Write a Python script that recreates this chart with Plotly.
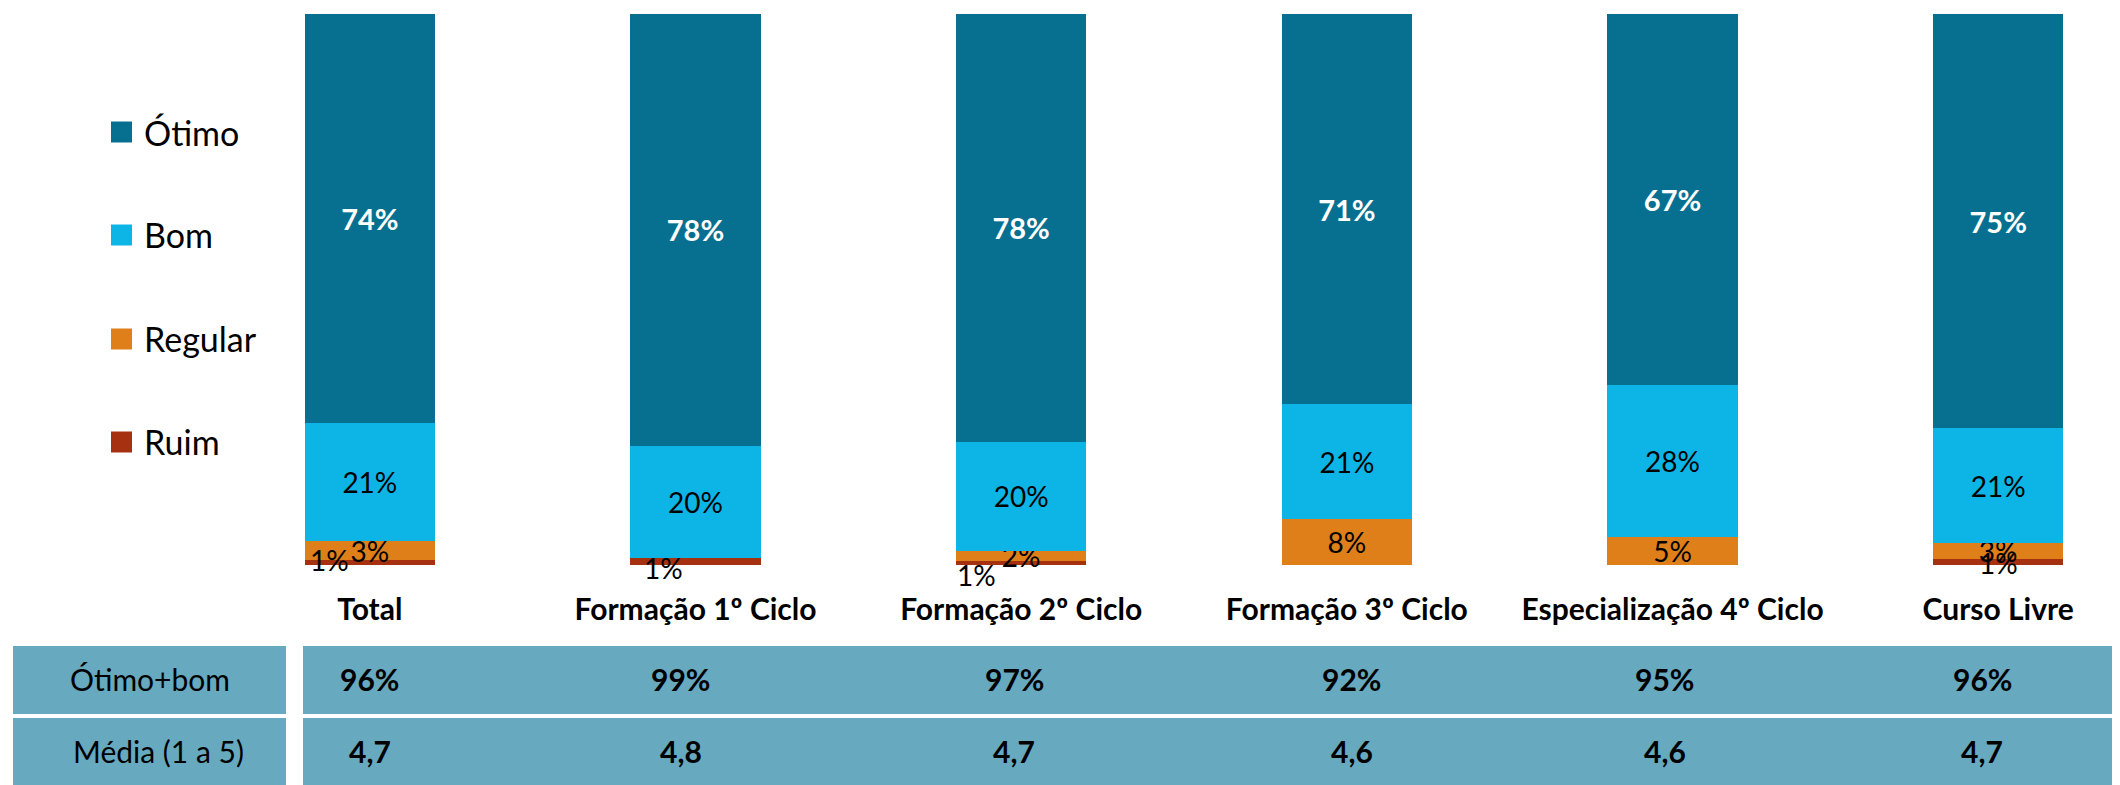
import plotly.graph_objects as go

# data (percent of answers)
categories = ['Total', 'Formação 1º Ciclo', 'Formação 2º Ciclo', 'Formação 3º Ciclo',
              'Especialização 4º Ciclo', 'Curso Livre']
ruim = [0.9, 1.2, 0.8, 0.0, 0.0, 1.1]
regular = [3.4, 0.0, 1.8, 8.3, 5.1, 2.9]
bom = [21.4, 20.4, 19.8, 20.9, 27.6, 20.8]
otimo = [74.3, 78.4, 77.6, 70.8, 67.3, 75.2]
otimo_bom = ['96%', '99%', '97%', '92%', '95%', '96%']
media = ['4,7', '4,8', '4,7', '4,6', '4,6', '4,7']

series_names = ['Ótimo', 'Bom', 'Regular', 'Ruim']
series_colors = ['#077090', '#0cb5e6', '#df7f1a', '#a53111']
table_color = '#67a9bf'
FONT = 'Lato'

# page body has an 8px margin, so the figure is drawn 8px in from the corner
OFF = 8
W, H = 2120 - OFF, 785 - OFF


def px(x):
    return (x - OFF) / W


def py(y):
    return 1 - (y - OFF) / H


def pct_labels(values):
    return ['{:.0f}%'.format(v) if v > 0 else '' for v in values]


fig = go.Figure()

stack = [
    ('Ruim', ruim, series_colors[3], None),
    ('Regular', regular, series_colors[2], dict(family=FONT, size=28, color='black')),
    ('Bom', bom, series_colors[1], dict(family=FONT, size=28, color='black')),
    ('Ótimo', otimo, series_colors[0], dict(family=FONT, size=29, color='white', weight='bold')),
]
for name, values, color, font in stack:
    fig.add_trace(go.Bar(
        x=list(range(len(categories))), y=values, name=name,
        marker=dict(color=color, line=dict(width=0)),
        text=pct_labels(values) if font else None,
        textposition='inside' if font else 'none',
        insidetextanchor='middle', textangle=0, constraintext='none',
        textfont=font, cliponaxis=False, showlegend=False,
    ))

# the small "Ruim" labels were nudged off the bars in the original
ruim_shift = [(-40, 3), (-32, -6), (-45, -12), (0, 0), (0, 0), (0, -1)]
for i, v in enumerate(ruim):
    if v > 0:
        fig.add_annotation(x=i, y=v / 2, xref='x', yref='y', text='{:.0f}%'.format(v),
                           showarrow=False, xshift=ruim_shift[i][0], yshift=ruim_shift[i][1],
                           font=dict(family=FONT, size=28, color='black'))

# legend drawn by hand to get the big squares and wide spacing
legend_y = [132, 235, 339, 442]
for name, color, yc in zip(series_names, series_colors, legend_y):
    fig.add_shape(type='rect', xref='paper', yref='paper',
                  x0=px(111), x1=px(132), y0=py(yc - 10.5), y1=py(yc + 10.5),
                  fillcolor=color, line=dict(width=0))
    fig.add_annotation(xref='paper', yref='paper', x=px(142), y=py(yc), text=name,
                       xanchor='left', yanchor='middle', showarrow=False,
                       font=dict(family=FONT, size=34, color='black'))

# table under the chart
table_shift = [0, -15, -7, 5, -8, -16]
rows = [('Ótimo+bom', otimo_bom, 646, 714, 150), ('Média (1 a 5)', media, 718, 786, 158)]
for label, vals, top, bottom, label_x in rows:
    fig.add_shape(type='rect', xref='paper', yref='paper', x0=px(13), x1=px(286),
                  y0=py(bottom), y1=py(top), fillcolor=table_color, line=dict(width=0), layer='below')
    fig.add_shape(type='rect', xref='paper', yref='paper', x0=px(303), x1=1,
                  y0=py(bottom), y1=py(top), fillcolor=table_color, line=dict(width=0), layer='below')
    yc = (top + bottom) / 2 - 1
    fig.add_annotation(xref='paper', yref='paper', x=px(label_x), y=py(yc), text=label,
                       xanchor='center', yanchor='middle', showarrow=False,
                       font=dict(family=FONT, size=30, color='black'))
    for i, v in enumerate(vals):
        fig.add_annotation(xref='x', yref='paper', x=i, y=py(yc), text=v, showarrow=False,
                           xanchor='center', yanchor='middle', xshift=table_shift[i],
                           font=dict(family=FONT, size=30, color='black', weight='bold'))

fig.update_layout(
    width=W, height=H, autosize=False,
    barmode='stack', bargap=0.6,
    margin=dict(l=0, r=0, t=0, b=0),
    paper_bgcolor='white', plot_bgcolor='white',
    showlegend=False,
    xaxis=dict(domain=[px(207), 1], range=[-0.5, 5.374], tickmode='array',
               tickvals=list(range(len(categories))), ticktext=categories,
               tickfont=dict(family=FONT, size=30, color='black', weight='bold'),
               ticks='', ticklabelstandoff=24, showgrid=False, zeroline=False, showline=False),
    yaxis=dict(domain=[py(565), py(14)], range=[0, 100], visible=False, showgrid=False),
)

fig.write_html('out.html')
